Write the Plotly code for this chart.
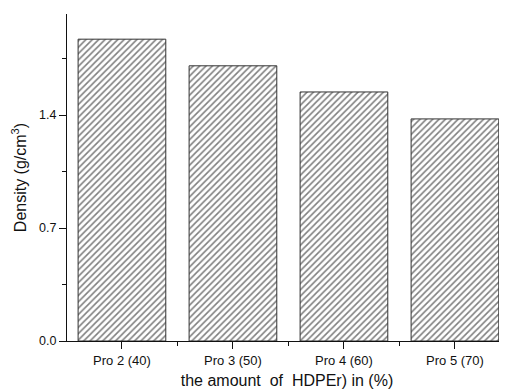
import plotly.graph_objects as go

categories = ["Pro 2 (40)", "Pro 3 (50)", "Pro 4 (60)", "Pro 5 (70)"]
density = [1.87, 1.705, 1.543, 1.376]
y_ticks = [0.0, 0.7, 1.4]
y_tick_labels = ["0.0", "0.7", "1.4"]

xpos = list(range(len(categories)))

fig = go.Figure()
fig.add_trace(go.Bar(
    x=xpos, y=density, width=0.79,
    marker=dict(
        color="white",
        line=dict(color="#333333", width=1),
        pattern=dict(shape="/", size=4.5, solidity=0.35, fgcolor="#000000", bgcolor="white"),
    ),
))

font = "Liberation Sans, Arial, sans-serif"
# the page body adds an 8 px offset; margins compensate for it
fig.update_layout(
    width=499, height=383,
    margin=dict(l=59, r=0, t=6, b=50),
    plot_bgcolor="white", paper_bgcolor="white",
    showlegend=False,
    font=dict(family=font, size=12, color="#111111"),
    xaxis=dict(
        automargin=False,
        range=[-0.495, 3.469],
        tickvals=xpos, ticktext=categories, tickfont=dict(size=13),
        ticks="outside", ticklen=7, tickwidth=1, tickcolor="#111",
        showline=True, linecolor="#111", linewidth=1.2,
        showgrid=False, zeroline=False,
        minor=dict(ticks="outside", ticklen=4, tick0=0.5, dtick=1, tickcolor="#111", showgrid=False),
        title=dict(text="the amount\u00a0 of\u00a0 HDPEr) in (%)", font=dict(size=16), standoff=8),
    ),
    yaxis=dict(
        automargin=False,
        range=[0, 2.026],
        tickvals=y_ticks, ticktext=y_tick_labels, tickfont=dict(size=12.5),
        ticks="outside", ticklen=7, tickwidth=1, tickcolor="#111",
        showline=True, linecolor="#111", linewidth=1.2,
        showgrid=False, zeroline=False,
        minor=dict(ticks="outside", ticklen=4, tickvals=[0.35, 1.05, 1.75], tickcolor="#111", showgrid=False),
        title=dict(text="Density (g/cm<sup>3</sup>)", font=dict(size=16), standoff=8),
    ),
)

fig.write_html("out.html")
